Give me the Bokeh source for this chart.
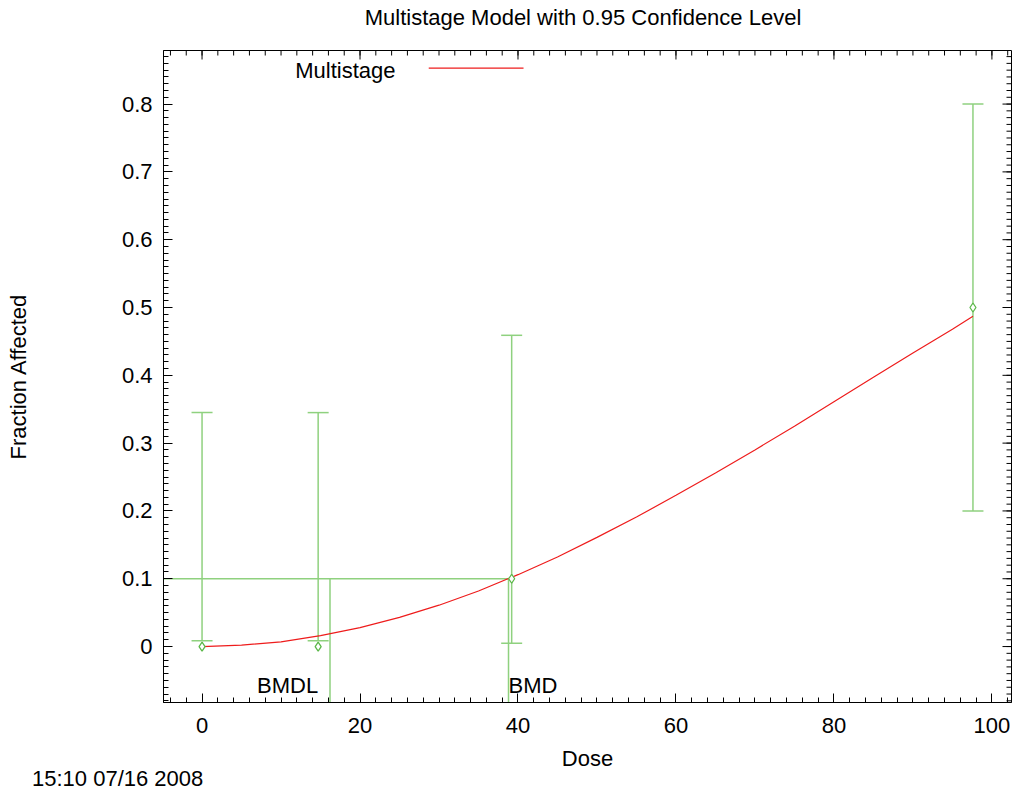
from bokeh.plotting import figure
from bokeh.models import (Range1d, Whisker, TeeHead, ColumnDataSource,
                          Label, FixedTicker, Arrow, Div)
from bokeh.layouts import column
from bokeh.embed import file_html
from bokeh.resources import INLINE

# ---- data ----
dose = [0.0, 14.7, 39.2, 97.6]
frac = [0.0, 0.0, 0.1, 0.5]
ci_lower = [0.0085, 0.0085, 0.005, 0.2]
ci_upper = [0.345, 0.345, 0.459, 0.8]

curve_dose = [0, 5, 10, 15, 20, 25, 30, 35, 40, 45, 50, 55, 60, 65, 70, 75, 80, 85, 90, 95, 97.6]
curve_frac = [0, 0.002, 0.007, 0.016, 0.028, 0.043, 0.061, 0.082, 0.106, 0.132, 0.161,
              0.191, 0.223, 0.256, 0.290, 0.325, 0.361, 0.397, 0.433, 0.468, 0.487]

bmr = 0.1
bmd = 38.8
bmdl = 16.2

x_ticks = [0, 20, 40, 60, 80, 100]
y_ticks = [0, 0.1, 0.2, 0.3, 0.4, 0.5, 0.6, 0.7, 0.8]
x_minor = [2 * i for i in range(-2, 52)]
y_minor = [round(0.01 * i, 2) for i in range(-8, 88)]

title_text = "Multistage Model with 0.95 Confidence Level"
timestamp = "15:10 07/16 2008"

FONT = "Liberation Sans"
FS = "22px"
GREEN_LINE = "#8fd17f"
GREEN_MARK = "#5cb84a"
RED = "#ee1c1c"

TITLE_H = 35
W, H = 1014, 738
BL, BR, BT, BB = 163, 3, 15, 71
MAJ, MIN = 9, 5

xr = Range1d(-4.88, 102.48)
yr = Range1d(-0.0825, 0.879)

p = figure(width=W, height=H, x_range=xr, y_range=yr,
           output_backend="svg", toolbar_location=None,
           x_axis_label="Dose", y_axis_label="Fraction Affected")
p.min_border_left = BL
p.min_border_right = BR
p.min_border_top = BT
p.min_border_bottom = BB
p.grid.visible = False
p.outline_line_color = "black"
p.outline_line_width = 1
p.background_fill_color = "white"
p.border_fill_color = "white"

def style_axis(ax, ticks, minor):
    ax.ticker = FixedTicker(ticks=ticks, minor_ticks=minor)
    ax.major_tick_in = MAJ
    ax.major_tick_out = 0
    ax.minor_tick_in = MIN
    ax.minor_tick_out = 0
    ax.axis_line_color = "black"
    ax.major_tick_line_color = "black"
    ax.minor_tick_line_color = "black"
    ax.major_label_text_font = FONT
    ax.major_label_text_font_size = FS
    ax.major_label_text_color = "black"
    ax.axis_label_text_font = FONT
    ax.axis_label_text_font_size = FS
    ax.axis_label_text_font_style = "normal"
    ax.axis_label_text_color = "black"

style_axis(p.xaxis[0], x_ticks, x_minor)
style_axis(p.yaxis[0], y_ticks, y_minor)
p.xaxis[0].major_label_standoff = 15
p.xaxis[0].axis_label_standoff = 10
p.yaxis[0].major_label_standoff = 11
p.yaxis[0].axis_label_standoff = 88

# mirrored ticks on the top and right frame edges (pixel lengths converted to data units)
frame_w = W - BL - BR
frame_h = H - BT - BB
dx = (xr.end - xr.start) / frame_w
dy = (yr.end - yr.start) / frame_h

p.segment(x0=x_ticks, y0=[yr.end] * len(x_ticks), x1=x_ticks,
          y1=[yr.end - MAJ * dy] * len(x_ticks), line_color="black", line_width=1)
p.segment(x0=x_minor, y0=[yr.end] * len(x_minor), x1=x_minor,
          y1=[yr.end - MIN * dy] * len(x_minor), line_color="black", line_width=1)
p.segment(x0=[xr.end] * len(y_ticks), y0=y_ticks, x1=[xr.end - MAJ * dx] * len(y_ticks),
          y1=y_ticks, line_color="black", line_width=1)
p.segment(x0=[xr.end] * len(y_minor), y0=y_minor, x1=[xr.end - MIN * dx] * len(y_minor),
          y1=y_minor, line_color="black", line_width=1)

# BMD / BMDL lines
p.segment(x0=[xr.start], y0=[bmr], x1=[bmd], y1=[bmr], line_color=GREEN_LINE, line_width=1.5)
p.segment(x0=[bmdl, bmd], y0=[yr.start, yr.start], x1=[bmdl, bmd], y1=[bmr, bmr],
          line_color=GREEN_LINE, line_width=1.5)

# error bars
src = ColumnDataSource(dict(dose=dose, frac=frac, lower=ci_lower, upper=ci_upper))
wh = Whisker(base="dose", lower="lower", upper="upper", source=src,
             line_color=GREEN_LINE, line_width=1.5,
             upper_head=TeeHead(size=21, line_color=GREEN_LINE, line_width=1.5),
             lower_head=TeeHead(size=21, line_color=GREEN_LINE, line_width=1.5))
p.add_layout(wh)

# model curve
p.line(curve_dose, curve_frac, line_color=RED, line_width=1.2)

# observed points
p.scatter("dose", "frac", source=src, marker="diamond", size=9,
          fill_color="white", line_color=GREEN_MARK, line_width=1.3)

# labels
p.add_layout(Label(x=14.7, y=-0.0574, text="BMDL", text_align="right", text_baseline="middle",
                   text_font=FONT, text_font_size=FS, text_color="black"))
p.add_layout(Label(x=bmd, y=-0.0574, text="BMD", text_align="left", text_baseline="middle",
                   text_font=FONT, text_font_size=FS, text_color="black"))

# legend (label then line sample)
p.add_layout(Label(x=24.5, y=0.849, text="Multistage", text_align="right", text_baseline="middle",
                   text_font=FONT, text_font_size=FS, text_color="black"))
p.add_layout(Arrow(end=None, x_start=28.7, y_start=0.853, x_end=40.7, y_end=0.853,
                   line_color=RED, line_width=1.2))

# title above the plot, centred over the frame
title = Div(text=title_text, width=W - BL - BR, height=TITLE_H, margin=(0, 0, 0, BL - 4),
            styles={"font-family": FONT, "font-size": FS, "line-height": "36px",
                    "color": "black", "text-align": "center"})

# timestamp below the plot
stamp = Div(text='<span style="position:relative; top:-5px">%s</span>' % timestamp,
            width=400, height=22, margin=(0, 0, 0, 32),
            styles={"font-family": FONT, "font-size": FS, "line-height": "22px", "color": "black"})

layout = column(title, p, stamp, spacing=0)
open("out.html", "w").write(file_html(layout, INLINE))
